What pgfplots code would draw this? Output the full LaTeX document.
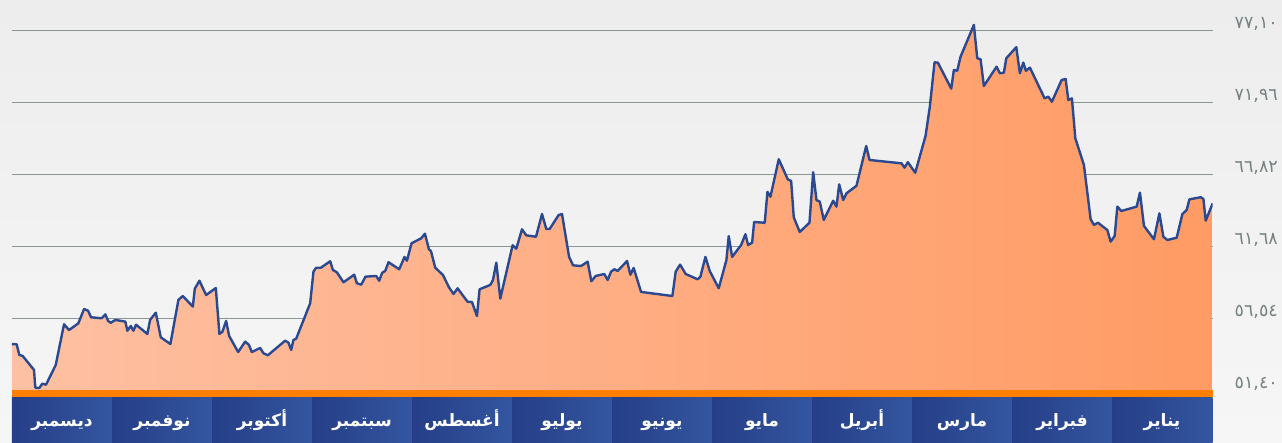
\documentclass[border=0pt]{standalone}
\usepackage{pgfplots}
\usepackage{pgfplotstable}
\pgfplotsset{compat=1.18}
\usepackage{fontspec}
\TeXXeTstate=1
\newfontfamily\arabicfont[Script=Arabic]{DejaVu Sans}
\newfontfamily\numfont{DejaVu Sans}
\definecolor{bgtop}{RGB}{237,237,237}
\definecolor{bgbot}{RGB}{246,246,246}
\definecolor{areaL}{RGB}{254,192,163}
\definecolor{areaR}{RGB}{255,155,100}
\definecolor{linec}{RGB}{43,73,145}
\definecolor{gridc}{RGB}{138,150,150}
\definecolor{labc}{RGB}{118,130,130}
\definecolor{barc}{RGB}{255,128,0}
\definecolor{bandL}{RGB}{37,62,135}
\definecolor{bandR}{RGB}{52,86,160}

\pgfplotstableread{
x y
0.000 54.73
0.047 54.71
0.073 53.95
0.107 53.88
0.220 52.88
0.233 51.61
0.273 51.59
0.303 51.90
0.340 51.83
0.437 53.23
0.520 56.14
0.570 55.73
0.663 56.21
0.720 57.23
0.760 57.11
0.790 56.64
0.897 56.57
0.933 56.85
0.960 56.38
0.987 56.25
1.033 56.45
1.133 56.33
1.153 55.68
1.187 56.02
1.213 55.68
1.240 56.11
1.353 55.45
1.380 56.45
1.437 56.97
1.487 55.21
1.583 54.73
1.663 57.88
1.707 58.16
1.807 57.40
1.827 58.68
1.873 59.25
1.940 58.23
2.037 58.73
2.073 55.45
2.103 55.61
2.140 56.38
2.170 55.31
2.260 54.16
2.330 54.90
2.367 54.68
2.397 54.16
2.480 54.45
2.513 54.07
2.557 53.93
2.730 54.97
2.763 54.83
2.790 54.31
2.813 55.02
2.840 55.11
2.980 57.64
3.013 59.90
3.040 60.18
3.087 60.18
3.180 60.64
3.207 60.02
3.247 59.85
3.313 59.14
3.420 59.68
3.447 59.07
3.490 58.97
3.533 59.54
3.640 59.59
3.670 59.25
3.700 59.82
3.730 59.95
3.763 60.57
3.870 60.07
3.923 60.95
3.947 60.68
3.993 61.92
4.090 62.28
4.127 62.61
4.167 61.49
4.187 61.37
4.230 60.18
4.307 59.66
4.367 58.78
4.413 58.30
4.453 58.71
4.553 57.75
4.597 57.73
4.647 56.73
4.673 58.64
4.780 58.95
4.807 59.30
4.840 60.54
4.880 57.97
5.003 61.78
5.040 61.54
5.097 62.92
5.140 62.49
5.237 62.39
5.297 64.01
5.340 62.94
5.373 62.94
5.463 63.94
5.497 64.01
5.567 60.97
5.607 60.35
5.687 60.30
5.753 60.61
5.790 59.21
5.833 59.59
5.920 59.73
5.953 59.30
5.987 59.90
6.020 60.07
6.053 59.95
6.147 60.66
6.180 59.68
6.213 60.16
6.287 58.45
6.600 58.16
6.633 59.90
6.677 60.40
6.733 59.73
6.853 59.35
6.880 59.54
6.930 60.95
6.973 59.95
7.063 58.71
7.140 60.73
7.163 62.44
7.197 60.95
7.287 61.80
7.330 62.57
7.357 61.80
7.397 61.97
7.417 63.44
7.523 63.39
7.550 65.59
7.580 65.25
7.663 67.92
7.753 66.49
7.787 66.37
7.813 63.78
7.873 62.73
7.970 63.39
8.007 66.99
8.040 65.01
8.073 64.89
8.113 63.59
8.207 64.96
8.240 64.54
8.267 66.13
8.307 65.01
8.340 65.49
8.440 66.03
8.537 68.87
8.570 67.87
8.890 67.63
8.920 67.32
8.953 67.71
9.027 66.96
9.130 69.58
9.173 71.67
9.220 74.84
9.253 74.82
9.387 72.96
9.413 74.29
9.447 74.24
9.480 75.24
9.613 77.51
9.647 75.13
9.680 75.06
9.713 73.15
9.840 74.53
9.873 74.06
9.913 74.10
9.937 75.13
10.037 75.92
10.073 74.06
10.107 74.82
10.133 74.24
10.173 74.46
10.320 72.27
10.357 72.39
10.393 72.03
10.490 73.58
10.530 73.65
10.557 72.15
10.593 72.27
10.627 69.42
10.713 67.51
10.780 63.64
10.813 63.23
10.853 63.39
10.947 62.87
10.980 62.04
11.020 62.44
11.047 64.54
11.087 64.23
11.240 64.54
11.273 65.54
11.313 63.16
11.413 62.21
11.467 64.06
11.507 62.39
11.547 62.16
11.640 62.32
11.697 64.01
11.740 64.30
11.767 65.06
11.880 65.21
11.907 65.09
11.930 63.54
12.000 64.78
}\pricedata

\begin{document}
\begin{tikzpicture}[x=1pt,y=1pt]
\shade[top color=bgtop, bottom color=bgbot] (-12,-51.3) rectangle (1270,390.7);
\begin{axis}[
  at={(0,0)}, anchor=south west,
  scale only axis, width=1200.7pt, height=390.7pt,
  xmin=0, xmax=12, ymin=51.40, ymax=79.29,
  axis line style={draw=none},
  xtick=\empty,
  ytick={51.40,56.54,61.68,66.82,71.96,77.10},
  yticklabels={{\beginL ٥١,٤٠\endL},{\beginL ٥٦,٥٤\endL},{\beginL ٦١,٦٨\endL},{\beginL ٦٦,٨٢\endL},{\beginL ٧١,٩٦\endL},{\beginL ٧٧,١٠\endL}},
  yticklabel pos=right,
  major tick length=0pt,
  ymajorgrids,
  grid style={gridc, line width=1.1pt},
  yticklabel style={anchor=east, inner sep=0pt, xshift=65.3pt, yshift=7pt,
    font=\numfont\fontsize{17.5}{20}\selectfont, text=labc},
]
\addplot[draw=none, left color=areaL, right color=areaR] table[x=x,y=y] {\pricedata} \closedcycle;
\addplot[linec, line width=2.4pt, line join=round] table[x=x,y=y] {\pricedata};
\end{axis}
\fill[barc] (0,0.3) rectangle (1200.7,-6.3);
\foreach \k/\m in {0/ديسمبر,1/نوفمبر,2/أكتوبر,3/سبتمبر,4/أغسطس,5/يوليو,6/يونيو,7/مايو,8/أبريل,9/مارس,10/فبراير,11/يناير}{
  \shade[left color=bandL, right color=bandR] ({100*\k},-6.3) rectangle ({100*\k+100.7},-51.3);
  \node[anchor=base, inner sep=0pt, text=white, font=\arabicfont\bfseries\fontsize{17}{19}\selectfont] at ({100*\k+50},-36) {\beginR\m\endR};
}
\end{tikzpicture}
\end{document}
